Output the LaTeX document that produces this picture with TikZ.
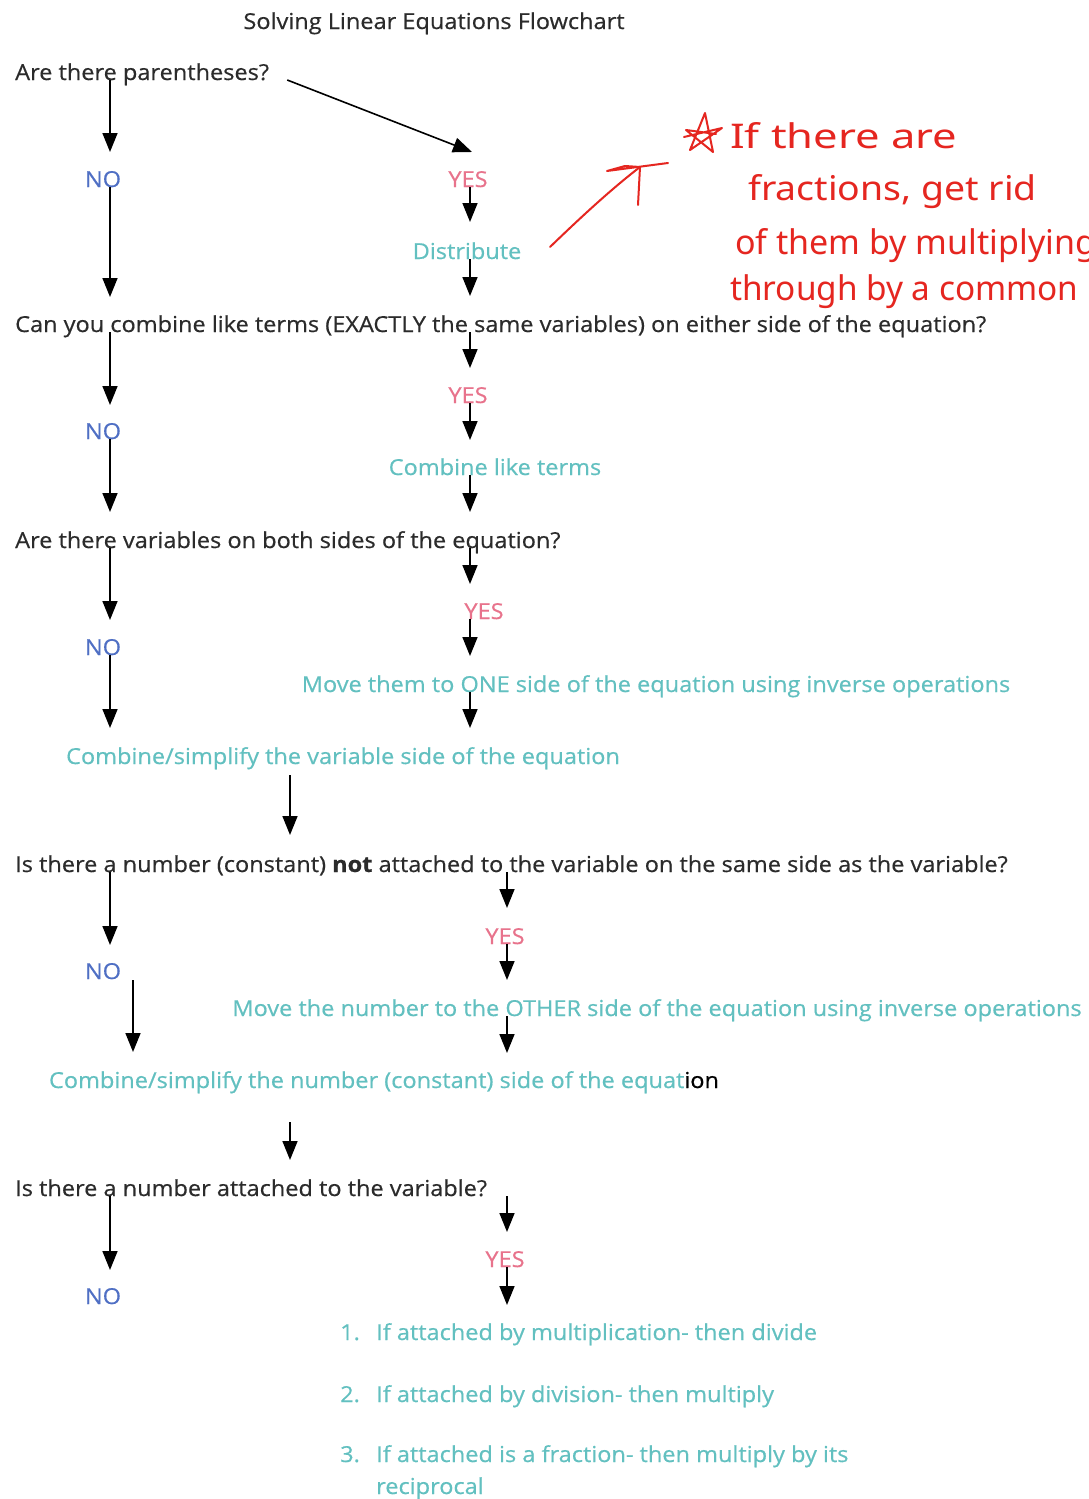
\documentclass[tikz,border=0pt]{standalone}
\usepackage{fontspec}
\setmainfont{Open Sans}[FakeStretch=1.07,FakeBold=0.5]
\newfontfamily\handfont{Noto Sans}
\usetikzlibrary{arrows.meta}
\definecolor{qcol}{HTML}{2B2B2B}
\definecolor{nocol}{HTML}{4F6FC4}
\definecolor{yescol}{HTML}{E8738C}
\definecolor{actcol}{HTML}{62C0C0}
\definecolor{redink}{HTML}{E52620}
\newcommand{\mainfs}{\fontsize{22}{26}\selectfont}
\newcommand{\handfs}{\fontsize{34}{40}\selectfont}
\begin{document}
\begin{tikzpicture}[x=1pt,y=-1pt,
  every node/.style={inner sep=0pt, font=\mainfs},
  ques/.style={anchor=base west, text=qcol},
  nolab/.style={anchor=base, text=nocol},
  yeslab/.style={anchor=base, text=yescol},
  act/.style={anchor=base, text=actcol},
  actw/.style={anchor=base west, text=actcol},
  hand/.style={anchor=base west, text=redink, font=\handfont\handfs},
  arr/.style={draw=black, line width=1.6pt, -{Triangle[width=15pt,length=19pt]}},
  ink/.style={draw=redink, line width=2pt, line cap=round, line join=round}]
\useasboundingbox[fill=white] (0,0) rectangle (1089,1499);

% column coordinates
\coordinate (L) at (110,0);
\coordinate (L2) at (133,0);
\coordinate (M) at (290,0);
\coordinate (R) at (470,0);
\coordinate (R2) at (507,0);

% title
\node[anchor=base, text=qcol] (title) at (434,29) {Solving Linear Equations Flowchart};

% section 1
\node[ques] (q1) at (15,80) {Are there parentheses?};
\node[nolab] (no1) at (103,187) {NO};
\node[yeslab] (yes1) at (468,187) {YES};
\node[act] (distr) at (467,259) {Distribute};

% section 2
\node[ques] (q2) at (15,332) {Can you combine like terms (EXACTLY the same variables) on either side of the equation?};
\node[nolab] (no2) at (103,439) {NO};
\node[yeslab] (yes2) at (468,403) {YES};
\node[act] (comb) at (495,475) {Combine like terms};

% section 3
\node[ques] (q3) at (15,548) {Are there variables on both sides of the equation?};
\node[nolab] (no3) at (103,655) {NO};
\node[yeslab] (yes3) at (484,619) {YES};
\node[act] (move1) at (656,692) {Move them to ONE side of the equation using inverse operations};
\node[act] (simp1) at (343,764) {Combine/simplify the variable side of the equation};

% section 4
\node[ques] (q4) at (15,872) {Is there a number (constant) \textbf{not} attached to the variable on the same side as the variable?};
\node[nolab] (no4) at (103,979) {NO};
\node[yeslab] (yes4) at (505,944) {YES};
\node[act] (move2) at (657,1016) {Move the number to the OTHER side of the equation using inverse operations};
\node[act] (simp2) at (384,1088) {Combine/simplify the number (constant) side of the equat\textcolor{black}{ion}};

% section 5
\node[ques] (q5) at (15,1196) {Is there a number attached to the variable?};
\node[nolab] (no5) at (103,1304) {NO};
\node[yeslab] (yes5) at (505,1267) {YES};
\node[actw] (n1) at (340,1340) {1.};
\node[actw] (l1) at (376,1340) {If attached by multiplication- then divide};
\node[actw] (n2) at (340,1402) {2.};
\node[actw] (l2) at (376,1402) {If attached by division- then multiply};
\node[actw] (n3) at (340,1462) {3.};
\node[actw] (l3) at (376,1462) {If attached is a fraction- then multiply by its};
\node[actw] (l3b) at (376,1494) {reciprocal};

% left column arrows
\draw[arr] (L |- q1.base) -- ([yshift=35pt]no1.base -| L);
\draw[arr] (L |- no1.base) -- ([yshift=35pt]q2.base -| L);
\draw[arr] (L |- q2.base) -- ([yshift=34pt]no2.base -| L);
\draw[arr] (L |- no2.base) -- ([yshift=36pt]q3.base -| L);
\draw[arr] (L |- q3.base) -- ([yshift=35pt]no3.base -| L);
\draw[arr] (L |- no3.base) -- ([yshift=36pt]simp1.base -| L);
\draw[arr] ([yshift=-11pt]simp1.base -| M) -- ([yshift=37pt]q4.base -| M);
\draw[arr] (L |- q4.base) -- ([yshift=34pt]no4.base -| L);
\draw[arr] ([yshift=-1pt]no4.base -| L2) -- ([yshift=36pt]simp2.base -| L2);
\draw[arr] ([yshift=-34pt]simp2.base -| M) -- ([yshift=36pt]q5.base -| M);
\draw[arr] (L |- q5.base) -- ([yshift=34pt]no5.base -| L);

% right column arrows
\draw[arr] ([xshift=18pt]q1.base east) -- ([xshift=2pt,yshift=35pt]yes1.base -| R);
\draw[arr] (R |- yes1.base) -- ([yshift=37pt]distr.base -| R);
\draw[arr] (R |- distr.base) -- ([yshift=36pt]q2.base -| R);
\draw[arr] (R |- q2.base) -- ([yshift=35pt]yes2.base -| R);
\draw[arr] (R |- yes2.base) -- ([yshift=35pt]comb.base -| R);
\draw[arr] (R |- comb.base) -- ([yshift=36pt]q3.base -| R);
\draw[arr] (R |- q3.base) -- ([yshift=35pt]yes3.base -| R);
\draw[arr] (R |- yes3.base) -- ([yshift=36pt]move1.base -| R);
\draw[arr] (R |- move1.base) -- ([yshift=36pt]simp1.base -| R);
\draw[arr] (R2 |- q4.base) -- ([yshift=36pt]yes4.base -| R2);
\draw[arr] (R2 |- yes4.base) -- ([yshift=36pt]move2.base -| R2);
\draw[arr] (R2 |- move2.base) -- ([yshift=35pt]simp2.base -| R2);
\draw[arr] (R2 |- q5.base) -- ([yshift=35pt]yes5.base -| R2);
\draw[arr] (R2 |- yes5.base) -- ([yshift=35pt]l1.base -| R2);

% handwritten red annotation
\begin{scope}
\clip (0,0) rectangle (1089,1499);
% hand-drawn star
\draw[ink] (684,137) -- (722,128) -- (690,150) -- (705,113) -- (713,152) -- (686,130) -- (716,134);
\node[hand] (h1) at (730,148) {\scalebox{1.28}[1]{If there are}};
\node[hand] (h2) at (748,200) {\scalebox{1.1}[1]{fractions, get rid}};
\node[hand] (h3) at (735,254) {of them by multiplying};
\node[hand] (h4) at (730,300) {\scalebox{0.98}[1]{through by a common}};
\coordinate (inkA) at (550,247);
\coordinate (inkB) at (640,167);
\draw[ink] (inkA) .. controls (578,220) and (610,190) .. (inkB);
\draw[ink] (668,163) -- (607,171) -- (625,166) -- (640,167);
\draw[ink] (640,167) -- (638,205);
\end{scope}
\end{tikzpicture}
\end{document}
